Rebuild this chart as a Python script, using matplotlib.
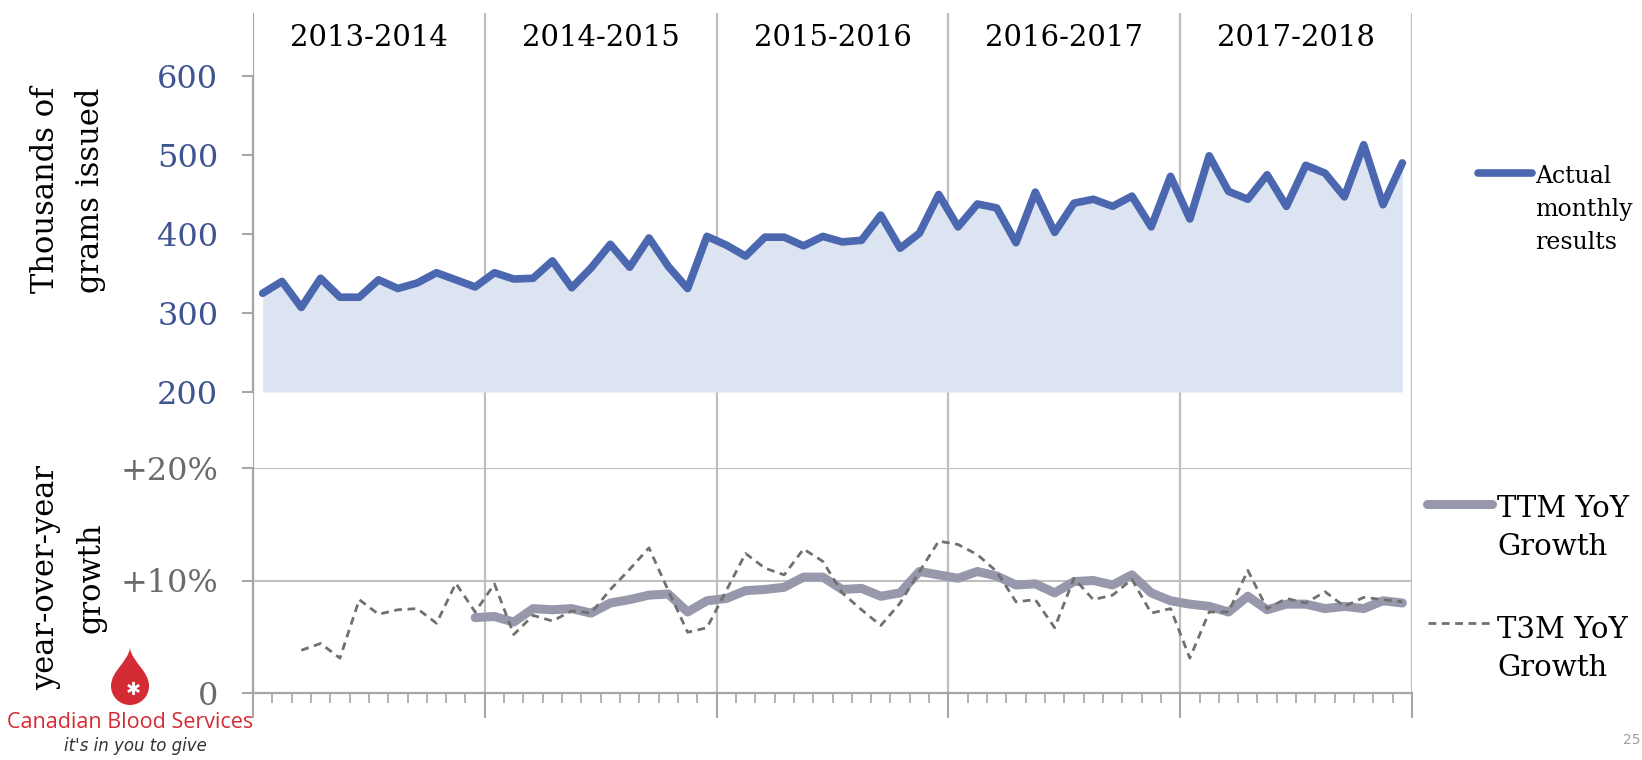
import numpy as np
import matplotlib.pyplot as plt
from matplotlib.lines import Line2D
from matplotlib.path import Path
from matplotlib.patches import PathPatch

plt.rcParams['font.family'] = ['DejaVu Serif']

W, H = 1642, 760

# fiscal years, 12 months each
years = ['2013-2014', '2014-2015', '2015-2016', '2016-2017', '2017-2018']

# thousands of grams issued per month
grams = [325, 340, 307, 344, 320, 320, 342, 331, 338, 351,
         342, 333, 351, 343, 344, 366, 332, 357, 387, 358,
         395, 359, 331, 397, 386, 372, 396, 396, 385, 397,
         390, 392, 424, 382, 401, 450, 409, 438, 433, 389,
         453, 402, 439, 444, 435, 448, 409, 473, 419, 499,
         454, 444, 475, 435, 487, 477, 447, 513, 437, 490]

# trailing 12 month growth, % (starts in month 12)
ttm = [None] * 11 + [6.7, 6.8, 6.3, 7.5, 7.4, 7.5, 7.1, 8.0, 8.3,
                     8.7, 8.8, 7.2, 8.2, 8.4, 9.1, 9.2, 9.4, 10.3, 10.3,
                     9.2, 9.3, 8.6, 8.9, 10.8, 10.5, 10.2, 10.8, 10.4, 9.6,
                     9.7, 8.9, 9.9, 10.0, 9.6, 10.5, 8.9, 8.2, 7.9, 7.7,
                     7.2, 8.6, 7.4, 7.9, 7.9, 7.5, 7.7, 7.5, 8.2, 8.0]

# trailing 3 month growth, % (starts in month 3)
t3m = [None] * 2 + [3.8, 4.4, 3.1, 8.3, 7.0, 7.4, 7.5, 6.2,
                    9.75, 7.2, 9.7, 5.2, 6.9, 6.4, 7.3, 7.1, 9.2, 11.0,
                    12.9, 9.1, 5.4, 5.8, 9.1, 12.4, 11.1, 10.5, 12.8, 11.7,
                    8.9, 7.4, 6.0, 8.0, 10.8, 13.5, 13.2, 12.3, 10.8, 8.1,
                    8.3, 5.8, 10.2, 8.3, 8.7, 10.1, 7.1, 7.5, 3.1, 7.2,
                    7.2, 10.9, 7.5, 8.4, 8.0, 9.0, 7.7, 8.5, 8.3, 8.1]

BLUE = '#4A67AF'
FILL = '#DCE3F1'
TTM_C = '#9898AC'
T3M_C = '#707070'
GRID = '#BFBFBF'
SPINE = '#A6A6A6'

x = np.arange(len(grams)) + 0.5
ttm_a = np.array([np.nan if v is None else v for v in ttm])
t3m_a = np.array([np.nan if v is None else v for v in t3m])


def fx(px):
    return px / W


def fy(py):
    return 1 - py / H


fig = plt.figure(figsize=(W / 100, H / 100), dpi=100)
L, R = 253, 1412

# background: year separators running through both panels
bg = fig.add_axes([fx(L), fy(693), fx(R - L), (693 - 13) / H])
bg.set_xlim(0, 60)
bg.set_ylim(0, 680)
bg.axis('off')
for b in range(0, 61, 12):
    bg.axvline(b, color=SPINE if b == 0 else GRID, lw=1.6)
for k, lab in enumerate(years):
    bg.text(12 * k + 6, 693 - 38, lab, ha='center', va='center', fontsize=21)

# top panel
top = fig.add_axes([fx(L), fy(392), fx(R - L), (392 - 76) / H])
top.set_facecolor('none')
top.fill_between(x, 200, grams, color=FILL, lw=0)
top.plot(x, grams, color=BLUE, lw=5.5, solid_joinstyle='round', solid_capstyle='round')
top.set_xlim(0, 60)
top.set_ylim(200, 600)
top.set_yticks([200, 300, 400, 500, 600])
top.set_xticks([])
for s in ['top', 'right', 'bottom']:
    top.spines[s].set_visible(False)
top.spines['left'].set_color(SPINE)
top.spines['left'].set_linewidth(1.6)
top.tick_params(axis='y', length=8, width=1.5, color=SPINE, pad=17,
                labelsize=23, labelcolor='#3F5491')

# bottom panel
bot = fig.add_axes([fx(L), fy(693), fx(R - L), (693 - 468) / H])
bot.set_facecolor('none')
for g in [10, 20]:
    bot.axhline(g, color=GRID, lw=1.5, zorder=0)
bot.plot(x, ttm_a, color=TTM_C, lw=6.5, solid_joinstyle='round', solid_capstyle='round')
bot.plot(x, t3m_a, color=T3M_C, lw=2, dashes=(2.8, 2))
bot.set_xlim(0, 60)
bot.set_ylim(0, 20)
bot.set_yticks([0, 10, 20])
bot.set_yticklabels(['0', '+10%', '+20%'])
bot.set_xticks(range(0, 61, 12))
bot.set_xticks(range(61), minor=True)
for s in ['top', 'right']:
    bot.spines[s].set_visible(False)
for s in ['left', 'bottom']:
    bot.spines[s].set_color(SPINE)
    bot.spines[s].set_linewidth(1.6)
bot.tick_params(axis='y', length=8, width=1.5, color=SPINE, pad=17,
                labelsize=23, labelcolor='#6B6B6B')
bot.tick_params(axis='x', which='major', length=18, width=1.5, color=SPINE, labelbottom=False)
bot.tick_params(axis='x', which='minor', length=7, width=1.2, color=SPINE)

# axis titles
fig.text(fx(68), fy(190), 'Thousands of\ngrams issued', rotation=90,
         ha='center', va='center', fontsize=22, linespacing=1.6)
fig.text(fx(68), fy(578), 'year-over-year\ngrowth', rotation=90,
         ha='center', va='center', fontsize=22, linespacing=1.6)

# legends
fig.add_artist(Line2D([fx(1478), fx(1532)], [fy(173), fy(173)], color=BLUE, lw=5.5,
                      solid_capstyle='round'))
for i, ln in enumerate(['Actual', 'monthly', 'results']):
    fig.text(fx(1535), fy(183 + 33 * i), ln, va='baseline', fontsize=17)

fig.add_artist(Line2D([fx(1427), fx(1492)], [fy(504), fy(504)], color=TTM_C, lw=6.5,
                      solid_capstyle='round'))
fig.add_artist(Line2D([fx(1428), fx(1490)], [fy(623), fy(623)], color=T3M_C, lw=2,
                      dashes=(2.8, 2)))
for i, ln in enumerate(['TTM YoY', 'Growth']):
    fig.text(fx(1497), fy(517 + 38 * i), ln, va='baseline', fontsize=21)
for i, ln in enumerate(['T3M YoY', 'Growth']):
    fig.text(fx(1497), fy(638 + 38 * i), ln, va='baseline', fontsize=21)

# logo
pts = [(130, 648), (132, 662), (149, 671), (149, 686), (149, 697), (140, 705), (130, 705),
       (120, 705), (111, 697), (111, 686), (111, 671), (128, 662), (130, 648), (130, 648)]
codes = [Path.MOVETO] + [Path.CURVE4] * 12 + [Path.CLOSEPOLY]
drop = Path([(fx(a), fy(b)) for a, b in pts], codes)
fig.add_artist(PathPatch(drop, transform=fig.transFigure, color='#D52B34', lw=0))
fig.text(fx(133), fy(690), '✱', color='white', ha='center', va='center', fontsize=13,
         family='DejaVu Sans')
fig.text(fx(130), fy(722), 'Canadian Blood Services', color='#D52B34', ha='center',
         va='center', fontsize=15.5, family='Open Sans')
fig.text(fx(135), fy(746), "it's in you to give", color='#333333', ha='center',
         va='center', fontsize=12, style='italic', family='DejaVu Sans')
fig.text(fx(1640), fy(740), '25', color='#A0A0A0', ha='right', va='center',
         fontsize=10, family='DejaVu Sans')

fig.savefig('out.png', dpi=100)
